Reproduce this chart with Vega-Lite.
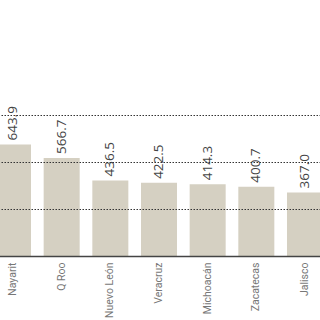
{
  "$schema": "https://vega.github.io/schema/vega-lite/v6.json",
  "autosize": {"type": "none"},
  "width": 328,
  "height": 256,
  "padding": {"left": -5, "right": -3, "top": 0, "bottom": 64},
  "background": "white",
  "config": {"view": {"stroke": null}, "font": "Open Sans"},
  "data": {"values": [
    {"state": "Nayarit", "value": 643.9},
    {"state": "Q Roo", "value": 566.7},
    {"state": "Nuevo León", "value": 436.5},
    {"state": "Veracruz", "value": 422.5},
    {"state": "Michoacán", "value": 414.3},
    {"state": "Zacatecas", "value": 400.7},
    {"state": "Jalisco", "value": 367.0}
  ]},
  "encoding": {
    "x": {"field": "state", "type": "nominal", "sort": null,
      "scale": {"paddingInner": 0.26, "paddingOuter": 0},
      "axis": {"title": null, "labelAngle": -90, "labelAlign": "right", "labelBaseline": "middle",
        "labelFont": "Roboto", "labelFontSize": 10.5, "labelColor": "#777", "labelPadding": 6, "ticks": false,
        "domainColor": "#444", "domainWidth": 1.5, "zindex": 1}},
    "y": {"field": "value", "type": "quantitative",
      "scale": {"domain": [0, 1479], "nice": false, "zero": true},
      "axis": {"title": null, "labels": false, "ticks": false, "domain": false,
        "values": [272, 544, 816], "grid": true, "gridColor": "#333", "gridDash": [1.5, 1.5],
        "gridWidth": 1, "zindex": 1}}
  },
  "layer": [
    {"mark": {"type": "bar", "color": "#d5d0c2"}},
    {"mark": {"type": "text", "angle": 270, "align": "left", "baseline": "middle", "dx": 4,
      "fontSize": 13.5, "color": "#444"},
     "encoding": {"text": {"field": "value", "type": "quantitative", "format": ".1f"}}}
  ]
}
